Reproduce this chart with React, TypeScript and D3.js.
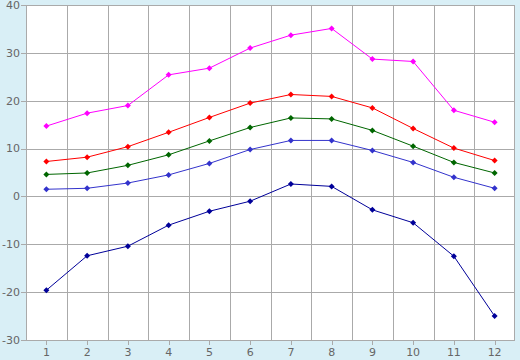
import React from "react";
import * as d3 from "d3";

const months = [1, 2, 3, 4, 5, 6, 7, 8, 9, 10, 11, 12];
const maxRecord = [14.7, 17.4, 19.0, 25.4, 26.8, 31.0, 33.7, 35.1, 28.7, 28.2, 18.0, 15.5];
const meanMax = [7.3, 8.2, 10.4, 13.4, 16.5, 19.5, 21.3, 20.9, 18.5, 14.2, 10.1, 7.5];
const meanTemp = [4.6, 4.9, 6.5, 8.7, 11.6, 14.4, 16.4, 16.2, 13.8, 10.5, 7.1, 4.9];
const meanMin = [1.5, 1.7, 2.8, 4.5, 6.9, 9.8, 11.7, 11.7, 9.6, 7.1, 4.0, 1.7];
const minRecord = [-19.6, -12.4, -10.4, -6.0, -3.1, -1.0, 2.6, 2.1, -2.8, -5.5, -12.5, -25.0];
const yTicks = [-30, -20, -10, 0, 10, 20, 30, 40];

const seriesList = [
  { name: "max", values: maxRecord, color: "#ff00ff" },
  { name: "meanMax", values: meanMax, color: "#ff0000" },
  { name: "mean", values: meanTemp, color: "#006600" },
  { name: "meanMin", values: meanMin, color: "#3333cc" },
  { name: "min", values: minRecord, color: "#000099" },
];

const W = 520;
const H = 360;
const L = 26;
const R = 515;
const T = 5;
const B = 340;

export default function App() {
  const x = d3.scaleBand<number>().domain(months).range([L, R]).padding(0);
  const y = d3.scaleLinear().domain([-30, 40]).range([B, T]);
  const cx = (m: number) => (x(m) as number) + x.bandwidth() / 2;
  const line = d3
    .line<number>()
    .x((_, i) => cx(months[i]))
    .y((d) => y(d));
  const marker = "M0,-3L3,0L0,3L-3,0Z";
  const grid = "#aaaaaa";
  const vLines = months.slice(1).map((m) => x(m) as number);

  return (
    <svg
      width={W}
      height={H}
      style={{ position: "absolute", left: 0, top: 0, display: "block" }}
      fontFamily="DejaVu Sans, Verdana, sans-serif"
    >
      <rect x={0} y={0} width={W} height={H} fill="#d9eff6" />
      <rect x={L} y={T} width={R - L} height={B - T} fill="#ffffff" />
      <g shapeRendering="crispEdges" stroke={grid} strokeWidth={1}>
        {yTicks.map((t) => (
          <line key={"h" + t} x1={L - 5} x2={R} y1={Math.round(y(t)) + 0.5} y2={Math.round(y(t)) + 0.5} />
        ))}
        {vLines.map((v, i) => (
          <line key={"v" + i} x1={Math.round(v) + 0.5} x2={Math.round(v) + 0.5} y1={T} y2={B} />
        ))}
        {months.map((m) => (
          <line key={"t" + m} x1={Math.round(cx(m)) + 0.5} x2={Math.round(cx(m)) + 0.5} y1={B} y2={B + 5} />
        ))}
        <rect x={L + 0.5} y={T + 0.5} width={R - L - 1} height={B - T} fill="none" />
      </g>
      <g fontSize={11} fill="#666666">
        {yTicks.map((t) => (
          <text key={"yl" + t} x={L - 6} y={y(t)} dy="0.35em" textAnchor="end">
            {t}
          </text>
        ))}
        {months.map((m) => (
          <text key={"xl" + m} x={cx(m)} y={B + 16} textAnchor="middle">
            {m}
          </text>
        ))}
      </g>
      {seriesList.map((s) => (
        <g key={s.name}>
          <path d={line(s.values) || ""} fill="none" stroke={s.color} strokeWidth={1} />
          {s.values.map((v, i) => (
            <path key={i} d={marker} transform={`translate(${cx(months[i])},${y(v)})`} fill={s.color} stroke="none" />
          ))}
        </g>
      ))}
    </svg>
  );
}
